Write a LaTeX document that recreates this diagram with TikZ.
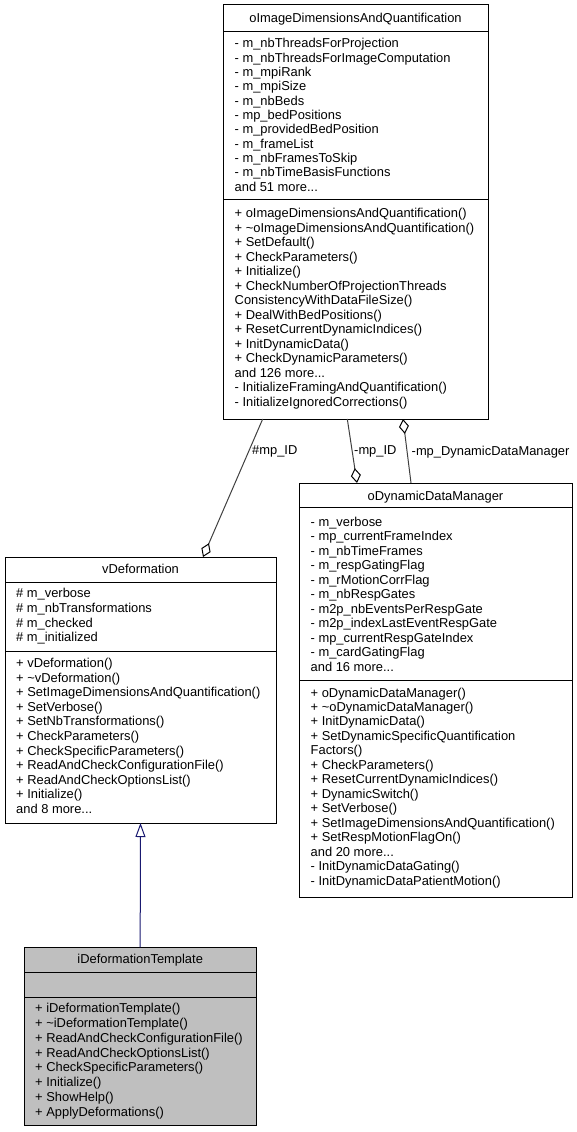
\documentclass[tikz,border=0pt]{standalone}
\usepackage{fontspec}
\setmainfont{Liberation Sans}
\usetikzlibrary{arrows.meta}
\definecolor{edgegray}{HTML}{404040}
\definecolor{inhblue}{HTML}{191970}
\definecolor{tmplgray}{HTML}{BFBFBF}
\newcommand{\tdots}{...}
\tikzset{
  box/.style={draw=black, line width=1pt, fill=white, inner sep=0pt, outer sep=0pt, anchor=north west},
  sepline/.style={draw=black, line width=1pt},
  txt/.style={anchor=base west, inner sep=0pt, font=\fontsize{12.9}{14.5}\selectfont, text=black},
  ttl/.style={txt, anchor=base},
  usage/.style={draw=edgegray, line width=1pt, -{Diamond[open, length=15pt, width=10pt, line width=1pt, color=black]}},
  inherit/.style={draw=inhblue, line width=1pt, -{Triangle[open, length=14pt, width=10pt, line width=1pt]}}
}
\newcommand{\mylines}[5]{\foreach \t [count=\i from 0] in {#5}{\node[txt] (#1\i) at (#2,{#3+\i*#4}) {\t};}}
\begin{document}
\begin{tikzpicture}[x=1pt,y=-1pt]
\useasboundingbox (0,0) rectangle (577,1132);
% ---------- oImageDimensionsAndQuantification
\node[box, minimum width=265pt, minimum height=414pt] (b1) at (223,5) {};
\draw[sepline] ([yshift=-27pt]b1.north west) -- ([yshift=-27pt]b1.north east);
\draw[sepline] ([yshift=-194.5pt]b1.north west) -- ([yshift=-194.5pt]b1.north east);
\node[ttl] (b1t) at (355.5,22.8) {oImageDimensionsAndQuantification};
\mylines{b1a}{234.5}{47.8}{14.35}{{- m\_nbThreadsForProjection},{- m\_nbThreadsForImageComputation},{- m\_mpiRank},{- m\_mpiSize},{- m\_nbBeds},{- mp\_bedPositions},{- m\_providedBedPosition},{- m\_frameList},{- m\_nbFramesToSkip},{- m\_nbTimeBasisFunctions},{and 51 more\tdots}}
\mylines{b1m}{234.5}{217.8}{14.49}{{+ oImageDimensionsAndQuantification()},{+ \textasciitilde oImageDimensionsAndQuantification()},{+ SetDefault()},{+ CheckParameters()},{+ Initialize()},{+ CheckNumberOfProjectionThreads},{ConsistencyWithDataFileSize()},{+ DealWithBedPositions()},{+ ResetCurrentDynamicIndices()},{+ InitDynamicData()},{+ CheckDynamicParameters()},{and 126 more\tdots},{- InitializeFramingAndQuantification()},{- InitializeIgnoredCorrections()}}
% ---------- oDynamicDataManager
\node[box, minimum width=273pt, minimum height=414pt] (b2) at (299,483) {};
\draw[sepline] ([yshift=-24.7pt]b2.north west) -- ([yshift=-24.7pt]b2.north east);
\draw[sepline] ([yshift=-197.7pt]b2.north west) -- ([yshift=-197.7pt]b2.north east);
\node[ttl] (b2t) at (435.5,500.5) {oDynamicDataManager};
\mylines{b2a}{310.5}{526.2}{14.5}{{- m\_verbose},{- mp\_currentFrameIndex},{- m\_nbTimeFrames},{- m\_respGatingFlag},{- m\_rMotionCorrFlag},{- m\_nbRespGates},{- m2p\_nbEventsPerRespGate},{- m2p\_indexLastEventRespGate},{- mp\_currentRespGateIndex},{- m\_cardGatingFlag},{and 16 more\tdots}}
\mylines{b2m}{310.5}{697}{14.49}{{+ oDynamicDataManager()},{+ \textasciitilde oDynamicDataManager()},{+ InitDynamicData()},{+ SetDynamicSpecificQuantification},{Factors()},{+ CheckParameters()},{+ ResetCurrentDynamicIndices()},{+ DynamicSwitch()},{+ SetVerbose()},{+ SetImageDimensionsAndQuantification()},{+ SetRespMotionFlagOn()},{and 20 more\tdots},{- InitDynamicDataGating()},{- InitDynamicDataPatientMotion()}}
% ---------- vDeformation
\node[box, minimum width=271pt, minimum height=266pt] (b3) at (5,557) {};
\draw[sepline] ([yshift=-25.3pt]b3.north west) -- ([yshift=-25.3pt]b3.north east);
\draw[sepline] ([yshift=-94pt]b3.north west) -- ([yshift=-94pt]b3.north east);
\node[ttl] (b3t) at (140.5,573.8) {vDeformation};
\mylines{b3a}{16}{597.8}{14.67}{{\# m\_verbose},{\# m\_nbTransformations},{\# m\_checked},{\# m\_initialized}}
\mylines{b3m}{16}{667.8}{14.54}{{+ vDeformation()},{+ \textasciitilde vDeformation()},{+ SetImageDimensionsAndQuantification()},{+ SetVerbose()},{+ SetNbTransformations()},{+ CheckParameters()},{+ CheckSpecificParameters()},{+ ReadAndCheckConfigurationFile()},{+ ReadAndCheckOptionsList()},{+ Initialize()},{and 8 more\tdots}}
% ---------- iDeformationTemplate
\node[box, fill=tmplgray, minimum width=231.7pt, minimum height=177.7pt] (b4) at (24.3,947.3) {};
\draw[sepline] ([yshift=-25pt]b4.north west) -- ([yshift=-25pt]b4.north east);
\draw[sepline] ([yshift=-50.4pt]b4.north west) -- ([yshift=-50.4pt]b4.north east);
\node[ttl] (b4t) at (140.2,963.5) {iDeformationTemplate};
\mylines{b4m}{35}{1012.8}{14.77}{{+ iDeformationTemplate()},{+ \textasciitilde iDeformationTemplate()},{+ ReadAndCheckConfigurationFile()},{+ ReadAndCheckOptionsList()},{+ CheckSpecificParameters()},{+ Initialize()},{+ ShowHelp()},{+ ApplyDeformations()}}
% ---------- connectors
\draw[usage] ([xshift=39.7pt]b1.south west) -- ([xshift=198pt]b3.north west);
\draw[usage] ([xshift=124.3pt]b1.south west) -- ([xshift=58pt]b2.north west);
\draw[usage] ([xshift=112pt]b2.north west) -- ([xshift=180pt]b1.south west);
\draw[inherit] (b4.north) -- (b3.south);
% ---------- labels
\node[txt] (l1) at (252,454.5) {\#mp\_ID};
\node[txt] (l2) at (354,454.5) {-mp\_ID};
\node[txt] (l3) at (411.5,455.5) {-mp\_DynamicDataManager};
\end{tikzpicture}
\end{document}
